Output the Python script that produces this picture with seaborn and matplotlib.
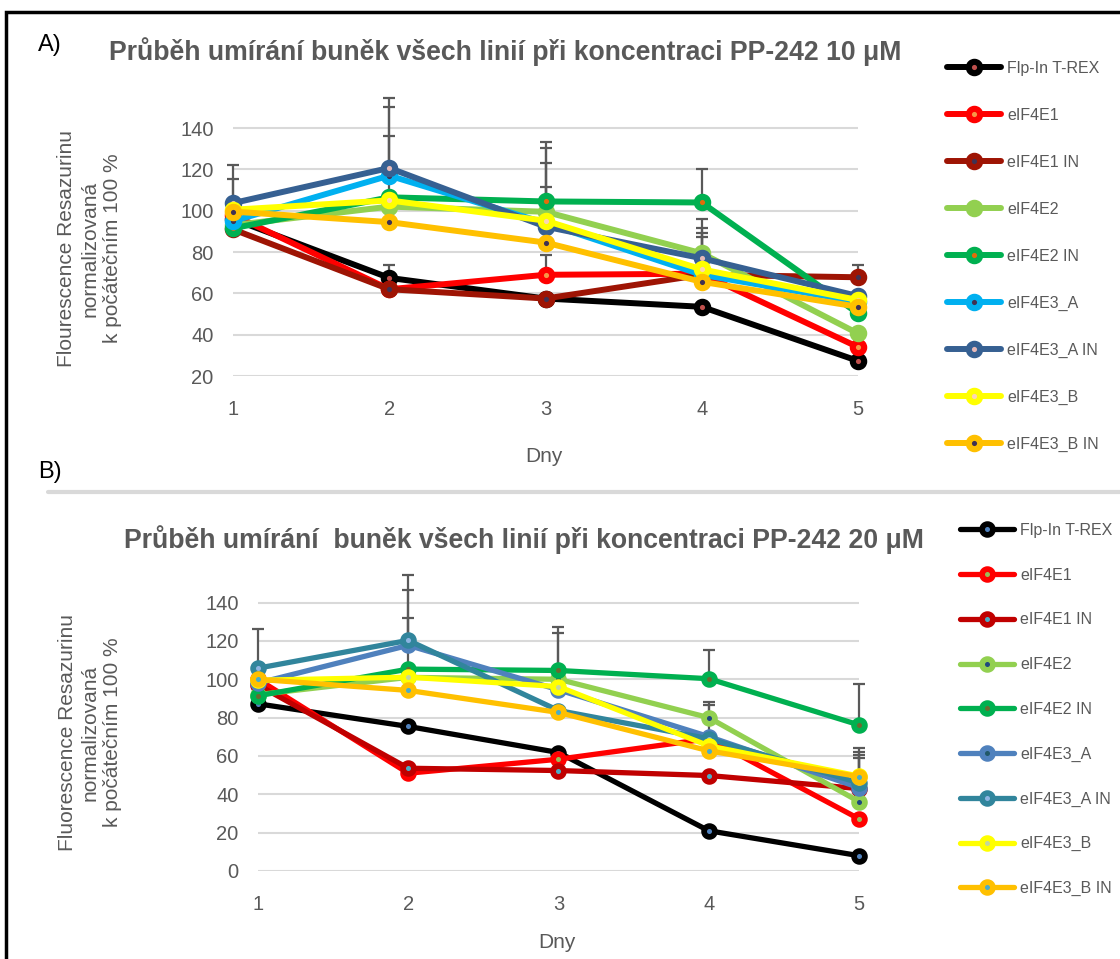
import matplotlib
matplotlib.use('Agg')
import matplotlib.pyplot as plt
from matplotlib.lines import Line2D
from matplotlib.patches import Rectangle
import seaborn as sns
import numpy as np
import pandas as pd

# ---- data ----
days = [1, 2, 3, 4, 5]
lines = ['Flp-In T-REX', 'eIF4E1', 'eIF4E1 IN', 'eIF4E2', 'eIF4E2 IN',
         'eIF4E3_A', 'eIF4E3_A IN', 'eIF4E3_B', 'eIF4E3_B IN']

# PP-242 10 uM
a_flp = [96, 67.5, 57.5, 53.5, 27.3]
a_e1 = [98, 62, 69, 69.5, 34]
a_e1in = [91, 62, 57.5, 69, 67.8]
a_e2 = [93, 102, 99.5, 79.4, 40.6]
a_e2in = [91.5, 106.5, 104.5, 104, 50.3]
a_e3a = [95, 117, 94, 69, 56]
a_e3ain = [103.7, 120.7, 92.3, 77, 58.7]
a_e3b = [100.5, 105, 95.2, 71.6, 56.8]
a_e3bin = [99.6, 94.5, 84.6, 65.6, 53.5]

a_err_flp = [0, 6.4, 0, 0, 0]
a_err_e1 = [0, 0, 9.7, 0, 0]
a_err_e1in = [0, 0, 0, 0, 5.9]
a_err_e2 = [0, 0, 30.8, 16.5, 0]
a_err_e2in = [0, 29.8, 28.8, 16.3, 0]
a_err_e3a = [0, 33.3, 0, 18.5, 0]
a_err_e3ain = [18.6, 34, 19, 14.5, 0]
a_err_e3b = [14.7, 0, 28, 17.8, 0]
a_err_e3bin = [0, 0, 0, 0, 0]

# PP-242 20 uM
b_flp = [87.2, 75.4, 61.8, 21, 8]
b_e1 = [100, 51, 58.3, 69, 27.2]
b_e1in = [97, 53.6, 52.4, 49.8, 43]
b_e2 = [92, 101, 100, 80, 36.2]
b_e2in = [91.4, 105.3, 104.6, 100.3, 76.2]
b_e3a = [98, 117.7, 94.5, 70.1, 43.5]
b_e3ain = [105.8, 120.3, 83.7, 69, 46]
b_e3b = [99.5, 101.1, 96.2, 65.3, 49.5]
b_e3bin = [100, 94.2, 82.7, 62.7, 49.2]

b_err_flp = [0, 0, 0, 0, 0]
b_err_e1 = [0, 0, 0, 0, 0]
b_err_e1in = [0, 0, 0, 0, 0]
b_err_e2 = [0, 0, 24.1, 8.4, 0]
b_err_e2in = [0, 26.7, 22.7, 15.1, 21.4]
b_err_e3a = [0, 29, 0, 16.6, 15.3]
b_err_e3ain = [20.4, 34.3, 0, 0, 14.6]
b_err_e3b = [0, 0, 0, 0, 12.8]
b_err_e3bin = [0, 0, 0, 0, 14.9]

a_vals = [a_flp, a_e1, a_e1in, a_e2, a_e2in, a_e3a, a_e3ain, a_e3b, a_e3bin]
a_errs = [a_err_flp, a_err_e1, a_err_e1in, a_err_e2, a_err_e2in,
          a_err_e3a, a_err_e3ain, a_err_e3b, a_err_e3bin]
b_vals = [b_flp, b_e1, b_e1in, b_e2, b_e2in, b_e3a, b_e3ain, b_e3b, b_e3bin]
b_errs = [b_err_flp, b_err_e1, b_err_e1in, b_err_e2, b_err_e2in,
          b_err_e3a, b_err_e3ain, b_err_e3b, b_err_e3bin]

# line colour, inner marker colour
a_cols = ['#000000', '#FF0000', '#9E1404', '#92D050', '#00B050',
          '#00B0F0', '#366092', '#FFFF00', '#FFC000']
a_inner = ['#C0504D', '#F79646', '#403152', '#92D050', '#E36C09',
           '#403152', '#E6B9B8', '#FCD5B4', '#403152']
b_cols = ['#000000', '#FF0000', '#C00000', '#92D050', '#00B050',
          '#4F81BD', '#31859C', '#FFFF00', '#FFC000']
b_inner = ['#4F81BD', '#9BBB59', '#4BACC6', '#1F497D', '#6B6A2F',
           '#215868', '#8DB4E2', '#C4D79B', '#4BACC6']

GREY = '#595959'

sns.set_theme(style='white')
plt.rcParams['font.family'] = ['Liberation Sans', 'DejaVu Sans']

fig = plt.figure(figsize=(11.2, 9.59), dpi=100)

# axes positions in pixels (left, right, bottom, top) -> fractions
def px_axes(l, r, b, t):
    return fig.add_axes([l / 1120, 1 - b / 959, (r - l) / 1120, (b - t) / 959])

ax_a = px_axes(233, 858, 376, 93)
ax_b = px_axes(258, 859, 871, 570)


def draw_panel(ax, vals, errs, cols, inner, ymin, ymax, lw, ms, mew):
    # error bars below the lines
    for v, e in zip(vals, errs):
        ax.errorbar(days, v, yerr=[np.zeros(5), e], fmt='none', ecolor=GREY,
                    elinewidth=1.6, capsize=4, capthick=1.6, zorder=1,
                    clip_on=False)
    for i, name in enumerate(lines):
        df = pd.DataFrame({'den': days, 'hodnota': vals[i]})
        sns.lineplot(data=df, x='den', y='hodnota', ax=ax, color=cols[i],
                     linewidth=lw, marker='o', markersize=ms,
                     markerfacecolor=inner[i], markeredgecolor=cols[i],
                     markeredgewidth=mew, label=name, clip_on=False,
                     zorder=2 + i)
    ax.set_xlim(1, 5)
    ax.set_ylim(ymin, ymax)
    ax.set_xticks(days)
    ax.set_yticks(np.arange(ymin, 141, 20))
    ax.yaxis.grid(True, color='#D9D9D9', linewidth=1.5)
    ax.set_axisbelow(True)
    for s in ax.spines.values():
        s.set_visible(False)
    ax.tick_params(axis='both', length=0, labelsize=14.5, colors=GREY)
    ax.tick_params(axis='x', pad=17)
    ax.tick_params(axis='y', pad=14)
    ax.set_xlabel('Dny', fontsize=15, color=GREY)


draw_panel(ax_a, a_vals, a_errs, a_cols, a_inner, 20, 157, 4.3, 8.2, 4.4)
draw_panel(ax_b, b_vals, b_errs, b_cols, b_inner, 0, 157, 3.8, 7.8, 4.1)

ax_a.set_ylabel('Flourescence Resazurinu\nnormalizovaná\nk počátečním 100 %',
                fontsize=15, color=GREY, linespacing=1.25)
ax_b.set_ylabel('Fluorescence Resazurinu\nnormalizovaná\nk počátečním 100 %',
                fontsize=15, color=GREY, linespacing=1.25)
ax_a.yaxis.set_label_coords((122 - 233) / 625, 0.45)
ax_b.yaxis.set_label_coords((122 - 258) / 601, 0.46)
ax_a.xaxis.set_label_coords(0.497, -0.25)
ax_b.xaxis.set_label_coords(0.497, -0.205)

# legends
ax_a.legend(loc='upper left', bbox_to_anchor=(947 / 1120, 1 - 61 / 959),
            bbox_transform=fig.transFigure, frameon=False, fontsize=11.5,
            labelcolor=GREY, handlelength=3.4, handletextpad=0.35,
            labelspacing=2.0, borderpad=0, borderaxespad=0)
ax_b.legend(loc='upper left', bbox_to_anchor=(960 / 1120, 1 - 523 / 959),
            bbox_transform=fig.transFigure, frameon=False, fontsize=11.5,
            labelcolor=GREY, handlelength=3.4, handletextpad=0.35,
            labelspacing=1.86, borderpad=0, borderaxespad=0)

# titles and panel letters
fig.text(505 / 1120, 1 - 52 / 959,
         'Průběh umírání buněk všech linií při koncentraci PP-242 10 μM',
         ha='center', va='center', fontsize=19.2, fontweight='bold', color=GREY)
fig.text(524 / 1120, 1 - 540 / 959,
         'Průběh umírání  buněk všech linií při koncentraci PP-242 20 μM',
         ha='center', va='center', fontsize=19.2, fontweight='bold', color=GREY)
fig.text(38 / 1120, 1 - 45 / 959, 'A)', ha='left', va='center',
         fontsize=17, color='black')
fig.text(38 / 1120, 1 - 472 / 959, 'B)', ha='left', va='center',
         fontsize=17, color='black')

# frame and separator
fig.patches.append(Rectangle((6 / 1120, -0.05), 1.2, 1 - 12 / 959 + 0.05,
                             transform=fig.transFigure, fill=False,
                             edgecolor='black', linewidth=2.5))
fig.lines.append(Line2D([48 / 1120, 1], [1 - 492 / 959] * 2,
                        transform=fig.transFigure, color='#D9D9D9',
                        linewidth=3))

fig.savefig('out.png', dpi=100)
